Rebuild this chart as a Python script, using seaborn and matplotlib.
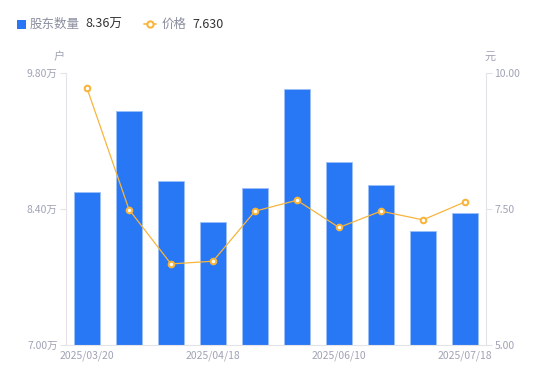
import numpy as np
import pandas as pd
import seaborn as sns
import matplotlib.pyplot as plt
from matplotlib.lines import Line2D
from matplotlib.patches import Rectangle

sns.set_style('white')
plt.rcParams['font.family'] = ['Noto Sans CJK SC', 'DejaVu Sans']

# 数据
dates = ['2025/03/20', '2025/03/31', '2025/04/10', '2025/04/18', '2025/04/30',
         '2025/05/20', '2025/06/10', '2025/06/20', '2025/06/30', '2025/07/18']
holders = [8.57, 9.41, 8.69, 8.27, 8.62, 9.64, 8.88, 8.65, 8.17, 8.36]  # 万户
price = [9.72, 7.49, 6.49, 6.54, 7.46, 7.66, 7.16, 7.46, 7.30, 7.63]  # 元

df = pd.DataFrame({'date': dates, 'holders': holders, 'price': price})

bar_color = '#2878F5'
line_color = '#F8B53C'
text_color = '#A0A3B5'
axis_color = '#E3E3E8'

fig = plt.figure(figsize=(5.5, 3.81), dpi=100)
ax = fig.add_axes([0.12, 0.0945, 0.7636, 0.714])

sns.barplot(data=df, x='date', y='holders', ax=ax, color=bar_color, saturation=1,
            width=0.6, edgecolor='#9CC0F8', linewidth=0.6)
ax.set_ylim(7.0, 9.8)
ax.set_yticks([7.0, 8.4, 9.8])
ax.set_yticklabels([f'{v:.2f}万' for v in [7.0, 8.4, 9.8]])
ax.set_xlabel('')
ax.set_ylabel('')

ax2 = ax.twinx()
sns.pointplot(data=df, x='date', y='price', ax=ax2, color=line_color,
              linewidth=0.9, markersize=4, markerfacecolor='white',
              markeredgewidth=1.5, markeredgecolor=line_color)
ax2.set_ylim(5.0, 10.0)
ax2.set_yticks([5.0, 7.5, 10.0])
ax2.set_yticklabels([f'{v:.2f}' for v in [5.0, 7.5, 10.0]])
ax2.set_ylabel('')
ax2.set_xlabel('')

# x轴只显示部分日期
xt = [0, 3, 6, 9]
ax.set_xticks(xt)
ax.set_xticklabels([dates[i] for i in xt])
ax.set_xlim(-0.5, len(dates) - 0.5)

for a in (ax, ax2):
    for s in a.spines.values():
        s.set_visible(False)
ax.spines['left'].set_visible(True)
ax.spines['left'].set_color(axis_color)
ax.spines['bottom'].set_visible(True)
ax.spines['bottom'].set_color(axis_color)
ax2.spines['right'].set_visible(True)
ax2.spines['right'].set_color(axis_color)

ax.tick_params(axis='y', length=4, color=axis_color, labelcolor=text_color, labelsize=7.5, pad=2, left=True)
ax.tick_params(axis='x', length=0, labelcolor=text_color, labelsize=7.5, pad=4)
ax2.tick_params(axis='y', length=4, color=axis_color, labelcolor=text_color, labelsize=7.5, pad=2, right=True)

# 单位
fig.text(59 / 550, 1 - 57 / 381, '户', color=text_color, fontsize=8, ha='center', va='center')
fig.text(490 / 550, 1 - 57 / 381, '元', color=text_color, fontsize=8, ha='center', va='center')

# 图例
fig.patches.append(Rectangle((17 / 550, 1 - 29 / 381), 9 / 550, 9 / 381, transform=fig.transFigure,
                             facecolor=bar_color, edgecolor='none'))
fig.text(30 / 550, 1 - 24 / 381, '股东数量', color='#8A8D9E', fontsize=9, va='center')
fig.text(85 / 550, 1 - 24 / 381, f'{holders[-1]:.2f}万', color='#333333', fontsize=9, va='center')
fig.lines.append(Line2D([144 / 550, 156 / 550], [1 - 24 / 381] * 2, transform=fig.transFigure,
                        color=line_color, linewidth=1.2))
fig.lines.append(Line2D([150 / 550], [1 - 24 / 381], transform=fig.transFigure,
                        color=line_color, marker='o', markersize=4.5, markerfacecolor='white',
                        markeredgewidth=1.5, linestyle='none'))
fig.text(162 / 550, 1 - 24 / 381, '价格', color='#8A8D9E', fontsize=9, va='center')
fig.text(192 / 550, 1 - 24 / 381, f'{price[-1]:.3f}', color='#333333', fontsize=9, va='center')

fig.savefig('out.png', dpi=100)
